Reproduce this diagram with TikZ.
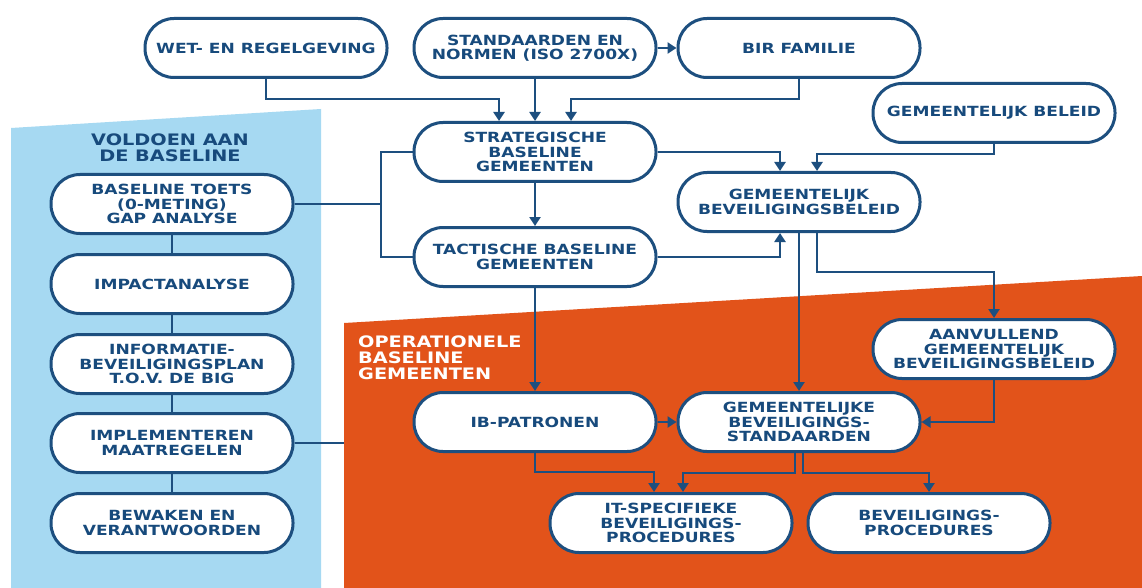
\documentclass[tikz,border=0pt]{standalone}
\usepackage{fontspec}
\usepackage{tikz}
\usetikzlibrary{arrows.meta}
\newfontfamily\boxfont{DejaVu Sans Bold}[FakeStretch=1.22]
\definecolor{lijnblauw}{HTML}{1D4F7F}
\definecolor{tekstblauw}{HTML}{174A7C}
\definecolor{lichtblauw}{HTML}{A6D9F2}
\definecolor{oranje}{HTML}{E2531A}
\tikzset{
  blok/.style={draw=lijnblauw, line width=3pt, fill=white, rounded corners=29pt,
    minimum width=242pt, minimum height=59pt, inner sep=0pt, align=center,
    text=tekstblauw, font=\boxfont\fontsize{14}{14.5}\selectfont},
  lijn/.style={draw=lijnblauw, line width=2.8pt},
  pijl/.style={lijn, -{Triangle[width=11pt,length=9pt]}},
  kop/.style={font=\boxfont\fontsize{15.8}{16}\selectfont, inner sep=0pt}
}
\begin{document}
\begin{tikzpicture}[x=1pt,y=-1pt]
  \useasboundingbox (0,0) rectangle (1142,588);
  \fill[white] (0,0) rectangle (1142,588);

  % Drawing the two coloured areas
  \fill[lichtblauw] (11,128) -- (321,109) -- (321,588) -- (11,588) -- cycle;
  \fill[oranje] (344,323) -- (1142,276) -- (1142,588) -- (344,588) -- cycle;

  % Headings of the areas
  \node[kop, text=tekstblauw, align=center] (voldoen) at (170,148) {VOLDOEN AAN\\DE BASELINE};
  \node[kop, text=white, align=left, anchor=west] (operationeel) at (358,358) {OPERATIONELE\\BASELINE\\GEMEENTEN};

  % Top row
  \node[blok] (wet) at (266,48) {WET- EN REGELGEVING};
  \node[blok] (standaard) at (535,48) {STANDAARDEN EN\\NORMEN (ISO 2700X)};
  \node[blok] (bir) at (799,48) {BIR FAMILIE};
  \node[blok] (gembeleid) at (994,113) {GEMEENTELIJK BELEID};

  % Strategic and tactical level
  \node[blok] (strategisch) at (535,152) {STRATEGISCHE\\BASELINE\\GEMEENTEN};
  \node[blok] (gbb) at (799,202) {GEMEENTELIJK\\BEVEILIGINGSBELEID};
  \node[blok] (tactisch) at (535,257) {TACTISCHE BASELINE\\GEMEENTEN};

  % Operational level
  \node[blok] (aanvullend) at (994,349) {AANVULLEND\\GEMEENTELIJK\\BEVEILIGINGSBELEID};
  \node[blok] (ibpatronen) at (535,422) {IB-PATRONEN};
  \node[blok] (gbs) at (799,422) {GEMEENTELIJKE\\BEVEILIGINGS-\\STANDAARDEN};
  \node[blok] (itproc) at (671,523) {IT-SPECIFIEKE\\BEVEILIGINGS-\\PROCEDURES};
  \node[blok] (bevproc) at (929,523) {BEVEILIGINGS-\\PROCEDURES};

  % Left column
  \node[blok] (toets) at (172,204) {BASELINE TOETS\\(0-METING)\\GAP ANALYSE};
  \node[blok] (impact) at (172,284) {IMPACTANALYSE};
  \node[blok] (ibplan) at (172,364) {INFORMATIE-\\BEVEILIGINGSPLAN\\T.O.V. DE BIG};
  \node[blok] (implementeren) at (172,443) {IMPLEMENTEREN\\MAATREGELEN};
  \node[blok] (bewaken) at (172,523) {BEWAKEN EN\\VERANTWOORDEN};

  % Connectors of the left column
  \draw[lijn] (toets) -- (impact);
  \draw[lijn] (impact) -- (ibplan);
  \draw[lijn] (ibplan) -- (implementeren);
  \draw[lijn] (implementeren) -- (bewaken);
  \coordinate (oranjerand) at (344,443);
  \draw[lijn] (implementeren.east) -- (oranjerand);
  \coordinate (splits) at (381,204);
  \draw[lijn] (toets.east) -- (splits);
  \draw[lijn] (strategisch.west) -| (splits) |- (tactisch.west);

  % Connectors into the strategic baseline
  \draw[pijl] (wet.south) -- ++(0,20) -| ([xshift=-36pt]strategisch.north);
  \draw[pijl] (standaard.south) -- (strategisch.north);
  \draw[pijl] (bir.south) -- ++(0,20) -| ([xshift=36pt]strategisch.north);
  \draw[pijl] (standaard.east) -- (bir.west);
  \draw[pijl] (strategisch.south) -- (tactisch.north);

  % Connectors into the security policy
  \draw[pijl] (strategisch.east) -| ([xshift=-19pt]gbb.north);
  \draw[pijl] (gembeleid.south) -- ++(0,10) -| ([xshift=18pt]gbb.north);
  \draw[pijl] (tactisch.east) -| ([xshift=-19pt]gbb.south);

  % Connectors of the operational level
  \draw[pijl] (tactisch.south) -- (ibpatronen.north);
  \draw[pijl] (gbb.south) -- (gbs.north);
  \draw[pijl] ([xshift=18pt]gbb.south) -- ++(0,39) -| (aanvullend.north);
  \draw[pijl] (aanvullend.south) |- (gbs.east);
  \draw[pijl] (ibpatronen.east) -- (gbs.west);
  \draw[pijl] (ibpatronen.south) -- ++(0,19) -| ([xshift=-17pt]itproc.north);
  \draw[pijl] ([xshift=-4pt]gbs.south) -- ++(0,20) -| ([xshift=12pt]itproc.north);
  \draw[pijl] ([xshift=4pt]gbs.south) -- ++(0,20) -| (bevproc.north);
\end{tikzpicture}
\end{document}
